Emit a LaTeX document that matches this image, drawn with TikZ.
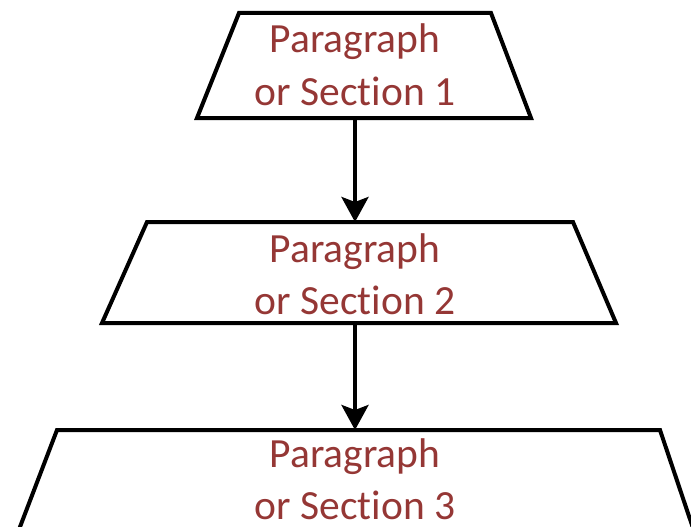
\documentclass[tikz,border=0pt]{standalone}
\usepackage{fontspec}
\setmainfont{Carlito}[Ligatures={NoCommon}]
\usetikzlibrary{arrows.meta}
\definecolor{txtred}{RGB}{149,55,53}
\begin{document}
\begin{tikzpicture}[x=1pt,y=-1pt,
  box/.style={draw=black,line width=4pt,line join=miter},
  lbl/.style={text=txtred,font=\fontsize{41.5}{52}\selectfont,align=center,inner sep=0pt,anchor=base},
  conn/.style={draw=black,line width=4pt,-{Stealth[length=25pt,width=27pt,inset=5pt]}}]
\useasboundingbox (0,0) rectangle (691,527);
% box 1
\draw[box] (239,13) -- (491,13) -- (531,118) -- (197,118) -- cycle;
\coordinate (b1) at (355,118);
\node[lbl] (t1) at (355,105) {Paragraph\\or Section 1};
% box 2
\draw[box] (147,222) -- (573,222) -- (616,323) -- (102,323) -- cycle;
\coordinate (a2) at (355,222);
\coordinate (b2) at (355,323);
\node[lbl] (t2) at (355,314) {Paragraph\\or Section 2};
% box 3
\draw[box] (15,540) -- (57,430) -- (660,430) -- (697,540);
\coordinate (a3) at (355,430);
\node[lbl] (t3) at (355,519) {Paragraph\\or Section 3};
% connectors
\draw[conn] (b1) -- (a2);
\draw[conn] (b2) -- (a3);
\end{tikzpicture}
\end{document}
